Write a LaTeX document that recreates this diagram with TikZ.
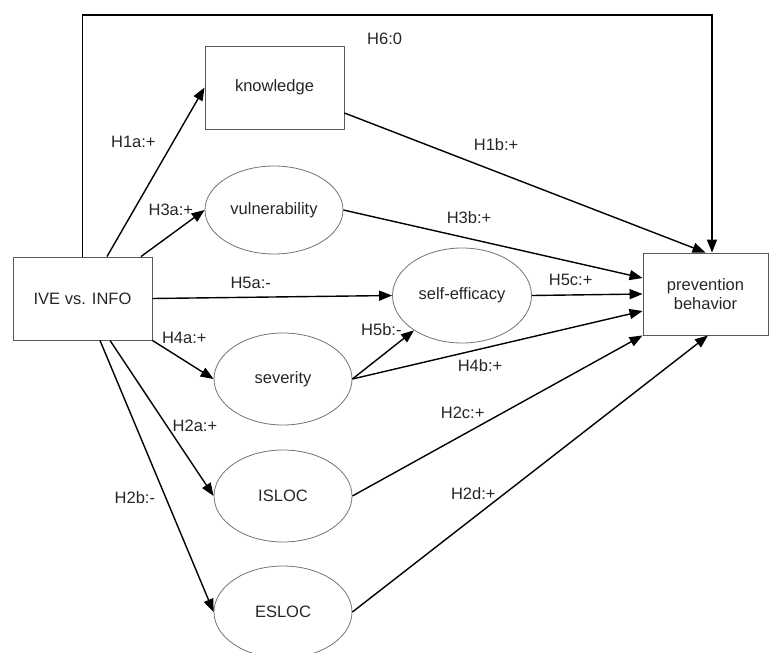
\documentclass[tikz,border=0pt]{standalone}
\usepackage{fontspec}
\setmainfont{Liberation Sans}
\usetikzlibrary{shapes.geometric,arrows.meta}

\tikzstyle{box}=[rectangle,draw=black!65,line width=0.9pt,minimum width=139pt,minimum height=83pt,inner sep=0pt,align=center]
\tikzstyle{var}=[ellipse,draw=black!55,line width=0.8pt,minimum width=138pt,minimum height=92pt,inner sep=0pt]
\tikzstyle{arr}=[-{Triangle[length=13pt,width=10pt]},line width=1.4pt]
\tikzstyle{lbl}=[inner sep=0pt,text=black!85]

\begin{document}
\begin{tikzpicture}[x=1pt,y=-1pt,font=\fontsize{16.5}{19}\selectfont,text=black!85]
  \useasboundingbox (0,0) rectangle (769,653);

  \node[box] (ive) at (82.5,298.5) {IVE vs. INFO};
  \node[box] (know) at (274.5,87.5) {knowledge};
  \node[box,minimum width=125pt,minimum height=82pt] (prev) at (705.5,294) {prevention\\behavior};

  \node[var,minimum height=88pt] (vuln) at (274,210) {vulnerability};
  \node[var,minimum width=139pt,minimum height=95pt] (selfeff) at (462,295.5) {self-efficacy};
  \node[var] (sev) at (283,379) {severity};
  \node[var] (isloc) at (283,496) {ISLOC};
  \node[var] (esloc) at (283,612) {ESLOC};

  \coordinate (top) at (82.5,15);

  % direct path over the top
  \draw[arr] (ive.north) -- (top) -| node[lbl,pos=0.24,yshift=-24pt] {H6:0} ([xshift=6.5pt]prev.north);

  \draw[arr] ([xshift=24.5pt]ive.north) -- node[lbl,pos=0.68,xshift=-40pt] {H1a:+} (know.west);
  \draw[arr] ([xshift=58.5pt]ive.north) -- node[lbl,pos=0.47,yshift=25pt] {H3a:+} (vuln.west);
  \draw[arr] (ive.east) -- node[lbl,pos=0.41,yshift=14pt] {H5a:-} (selfeff.west);
  \draw[arr] (ive.south east) -- node[lbl,pos=0.52,yshift=23pt] {H4a:+} (sev.west);
  \draw[arr] ([xshift=27.5pt]ive.south) -- node[lbl,pos=0.55,xshift=28pt] {H2a:+} (isloc.west);
  \draw[arr] ([xshift=17.5pt]ive.south) -- node[lbl,pos=0.58,xshift=-31pt] {H2b:-} (esloc.west);

  % mediators to behavior
  \draw[arr] ([yshift=-25.5pt]know.east) -- node[lbl,pos=0.42,yshift=27pt] {H1b:+} (prev.north);
  \draw[arr] (vuln.east) -- node[lbl,pos=0.42,yshift=21pt] {H3b:+} ([yshift=16pt]prev.west);
  \draw[arr] (selfeff.east) -- node[lbl,pos=0.35,yshift=15pt] {H5c:+} (prev.west);
  \draw[arr] (sev.east) -- node[lbl,pos=0.47,yshift=27pt] {H5b:-} (selfeff.216);
  \draw[arr] (sev.east) -- node[lbl,pos=0.44,yshift=-17pt] {H4b:+} ([yshift=-17pt]prev.west);
  \draw[arr] (isloc.east) -- node[lbl,pos=0.38,yshift=22pt] {H2c:+} (prev.south west);
  \draw[arr] (esloc.east) -- node[lbl,pos=0.34,yshift=24pt] {H2d:+} ([xshift=2.5pt]prev.south);
\end{tikzpicture}
\end{document}
